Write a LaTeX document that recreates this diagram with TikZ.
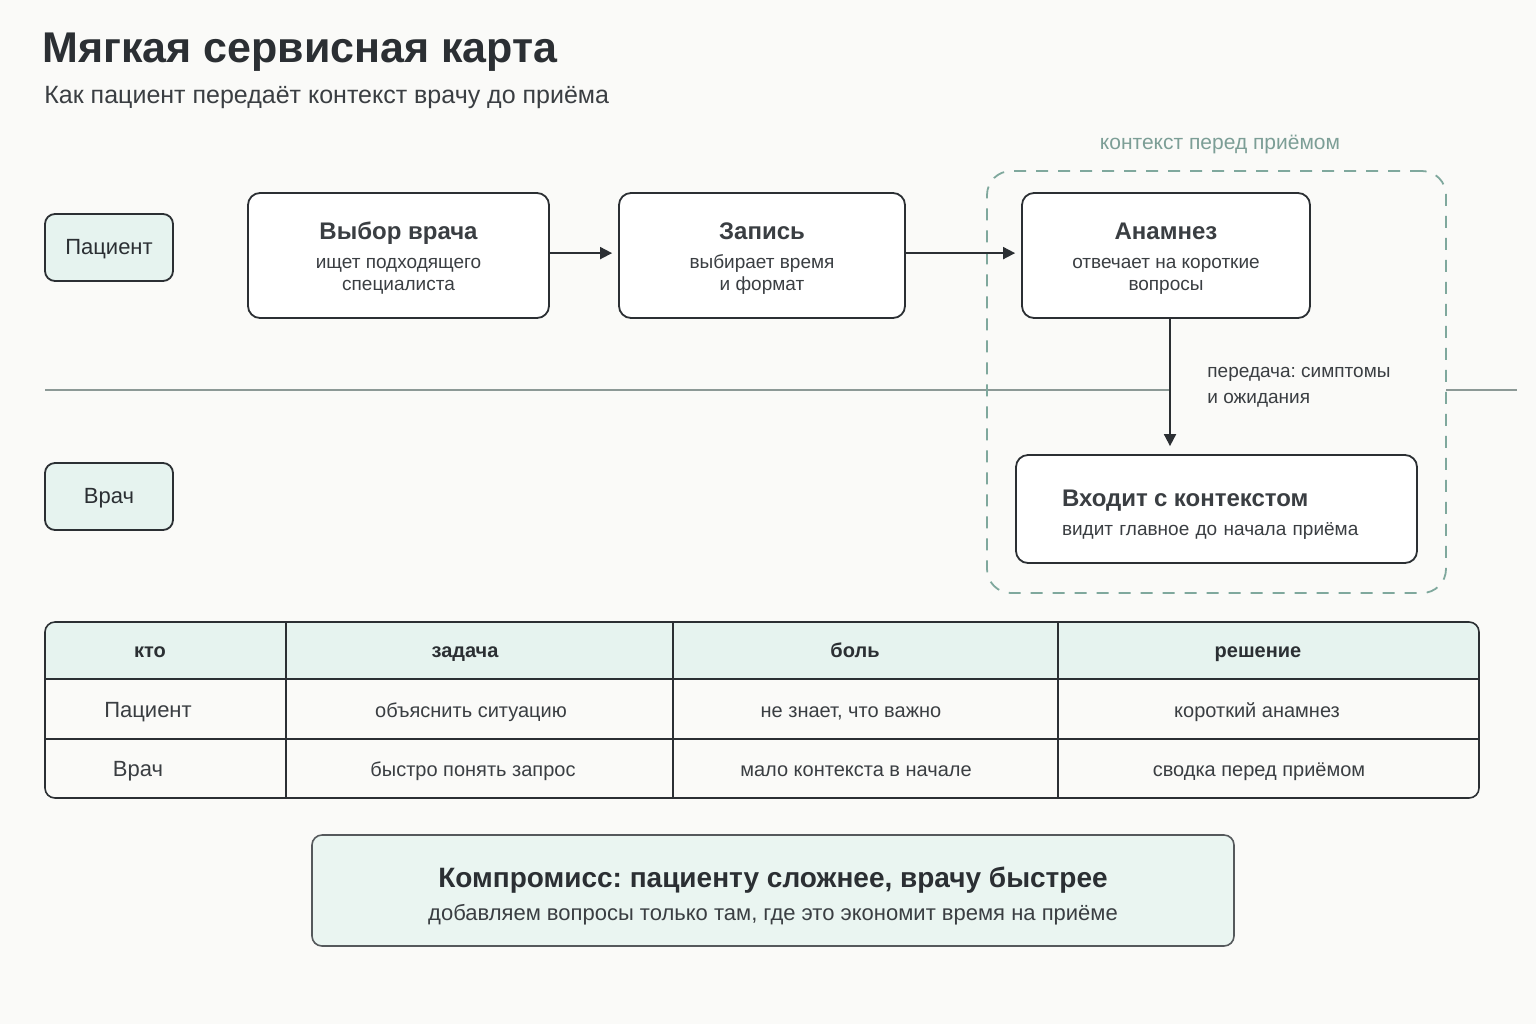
\documentclass[tikz,border=0pt]{standalone}
\usepackage{fontspec}
\setmainfont{Liberation Sans}
\usepackage{xcolor}
\definecolor{paper}{HTML}{FAFAF8}
\definecolor{ink}{HTML}{2B2F33}
\definecolor{subink}{HTML}{3A3E42}
\definecolor{mint}{HTML}{E6F3EF}
\definecolor{lanegray}{HTML}{8C9996}
\definecolor{ctxteal}{HTML}{7FA89D}
\definecolor{ctxtext}{HTML}{7C9E96}
\usepackage{tikz}
\usetikzlibrary{arrows.meta, positioning}
\frenchspacing

\newcommand{\steptitle}[1]{{\fontsize{12}{14}\selectfont\bfseries\rule{0pt}{11.5pt}#1}}

\begin{document}
\begin{tikzpicture}[
  x=0.5pt, y=-0.5pt,
  font=\fontsize{10}{12}\selectfont, text=ink,
  lanelabel/.style={
    draw=ink, line width=0.9pt, fill=mint, rounded corners=5pt,
    minimum width=64pt, minimum height=33.5pt, font=\fontsize{11}{13}\selectfont,
    text height=1.5ex, text depth=0.25ex
  },
  stepbox/.style={
    draw=ink, line width=0.9pt, fill=white, rounded corners=6pt,
    minimum height=62.5pt, align=center, font=\fontsize{9.5}{11}\selectfont, text=subink
  },
  flow/.style={-{Triangle[length=6pt, width=6pt]}, ink, line width=0.9pt},
  laneline/.style={lanegray, line width=0.8pt},
  ctxbox/.style={
    draw=ctxteal, line width=0.9pt, rounded corners=12pt, dash pattern=on 6pt off 5pt,
    minimum width=229.5pt, minimum height=211pt
  },
  grid/.style={draw=ink, line width=0.8pt},
  cell/.style={font=\fontsize{10}{12}\selectfont, text=subink, text height=1.5ex, text depth=0.25ex},
  headcell/.style={font=\fontsize{10}{12}\selectfont\bfseries, text height=1.5ex, text depth=0.25ex},
  tradeoff/.style={
    draw=ink!80, line width=0.8pt, fill=mint!85!white, rounded corners=5pt,
    minimum width=461pt, minimum height=55.5pt, align=center,
    font=\fontsize{11}{13}\selectfont, text=subink
  }
]
  % canvas
  \fill[paper] (0,0) rectangle (1536,1024);
  \useasboundingbox (0,0) rectangle (1536,1024);

  % heading
  \node[anchor=base west, inner sep=0, font=\fontsize{21.5}{24}\selectfont\bfseries]
    (title) at (42,62) {Мягкая сервисная карта};
  \node[anchor=base west, inner sep=0, font=\fontsize{12.5}{15}\selectfont, text=subink]
    (subtitle) at (44,103) {Как пациент передаёт контекст врачу до приёма};

  % lanes
  \node[lanelabel] (patient) at (109,247.5) {Пациент};
  \node[lanelabel] (doctor) at (109,496.5) {Врач};
  \draw[laneline] (45,390) -- (1170,390);
  \draw[laneline] (1446,390) -- (1517,390);

  % context frame
  \node[ctxbox] (ctx) at (1216.5,382) {};
  \node[text=ctxtext, font=\fontsize{10.5}{12}\selectfont, text height=1.5ex, text depth=0.25ex]
    (ctxlabel) at (1220,143) {контекст перед приёмом};

  % steps
  \node[stepbox, minimum width=150.5pt] (choose) at (398.5,255.5)
    {\steptitle{Выбор врача}\\[3.5pt]ищет подходящего\\специалиста};
  \node[stepbox, minimum width=143pt] (book) at (762,255.5)
    {\steptitle{Запись}\\[3.5pt]выбирает время\\и формат};
  \node[stepbox, minimum width=144pt] (anamnesis) at (1166,255.5)
    {\steptitle{Анамнез}\\[3.5pt]отвечает на короткие\\вопросы};
  \node[stepbox, minimum height=54pt, text width=154.5pt, inner xsep=23pt, align=left]
    (enter) at (1216.5,509)
    {{\fontsize{12}{14}\selectfont\bfseries\rule{0pt}{14pt}Входит с контекстом}\\[3.5pt]видит главное до начала приёма};

  \draw[flow, shorten >=3pt] ([yshift=1.2pt]choose.east) -- ([yshift=1.2pt]book.west);
  \draw[flow, shorten >=3pt] ([yshift=1.2pt]book.east) -- ([yshift=1.2pt]anamnesis.west);
  \draw[flow, shorten >=4pt] ([xshift=2pt]anamnesis.south) -- ([xshift=2pt]anamnesis.south |- enter.north);
  \node[anchor=west, inner sep=0, align=left, font=\fontsize{9.5}{13}\selectfont, text=subink]
    (handoff) at (1207,387) {передача: симптомы\\и ожидания};

  % table
  \begin{scope}
    \clip[rounded corners=5pt] (45,622) rectangle (1479,798);
    \fill[mint] (45,622) rectangle (1479,679);
  \end{scope}
  \draw[grid, rounded corners=5pt] (45,622) rectangle (1479,798);
  \draw[grid] (45,679) -- (1479,679);
  \draw[grid] (45,739) -- (1479,739);
  \foreach \x in {286,673,1058}
    \draw[grid] (\x,622) -- (\x,798);

  \node[headcell] (h-who) at (150,651) {кто};
  \node[headcell] (h-task) at (465,651) {задача};
  \node[headcell] (h-pain) at (855,651) {боль};
  \node[headcell] (h-fix) at (1258,651) {решение};

  \node[cell, font=\fontsize{11}{13}\selectfont] (r1-who) at (148,711) {Пациент};
  \node[cell] (r1-task) at (471,711) {объяснить ситуацию};
  \node[cell] (r1-pain) at (851,711) {не знает, что важно};
  \node[cell] (r1-fix) at (1257,711) {короткий анамнез};

  \node[cell, font=\fontsize{11}{13}\selectfont] (r2-who) at (138,770) {Врач};
  \node[cell] (r2-task) at (473,770) {быстро понять запрос};
  \node[cell] (r2-pain) at (856,770) {мало контекста в начале};
  \node[cell] (r2-fix) at (1259,770) {сводка перед приёмом};

  % trade-off
  \node[tradeoff] (trade) at (773,890.5)
    {{\fontsize{14}{16}\selectfont\bfseries\color{ink}\rule{0pt}{16pt}Компромисс: пациенту сложнее, врачу быстрее}\\[3.5pt]%
     добавляем вопросы только там, где это экономит время на приёме};
\end{tikzpicture}
\end{document}
